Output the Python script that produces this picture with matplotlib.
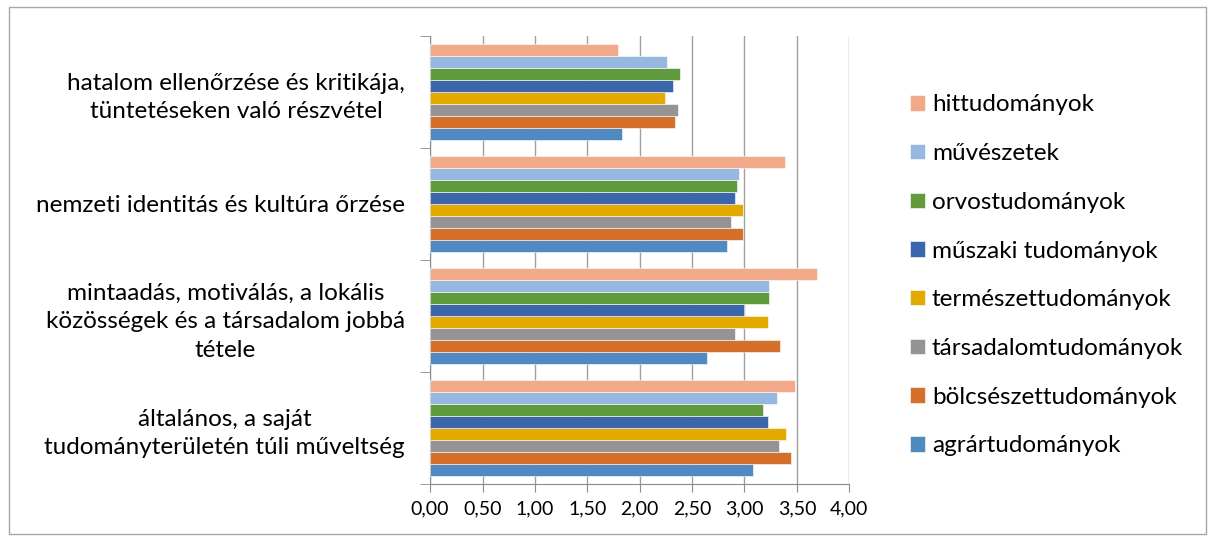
import numpy as np
import matplotlib.pyplot as plt
from matplotlib.patches import Rectangle
from matplotlib.ticker import FuncFormatter

# kategóriák alulról felfelé (Excel sorrend)
categories = [
    "általános, a saját\ntudományterületén túli műveltség",
    "mintaadás, motiválás, a lokális\nközösségek és a társadalom jobbá\ntétele",
    "nemzeti identitás és kultúra őrzése",
    "hatalom ellenőrzése és kritikája,\ntüntetéseken való részvétel",
]

series_names = [
    "agrártudományok",
    "bölcsészettudományok",
    "társadalomtudományok",
    "természettudományok",
    "műszaki tudományok",
    "orvostudományok",
    "művészetek",
    "hittudományok",
]

agrar = [3.08, 2.64, 2.83, 1.83]
bolcsesz = [3.44, 3.34, 2.99, 2.34]
tarsadalom = [3.33, 2.91, 2.87, 2.37]
termeszet = [3.40, 3.22, 2.99, 2.24]
muszaki = [3.22, 3.00, 2.91, 2.32]
orvos = [3.18, 3.23, 2.93, 2.38]
muveszet = [3.31, 3.23, 2.95, 2.26]
hittud = [3.48, 3.69, 3.39, 1.79]

values = [agrar, bolcsesz, tarsadalom, termeszet, muszaki, orvos, muveszet, hittud]

colors = ["#4F8BC0", "#D4702B", "#949494", "#E2AA00",
          "#3B65AD", "#629A3E", "#96B8DF", "#F2A98A"]

plt.rcParams["font.family"] = ["Lato", "DejaVu Sans"]

fig = plt.figure(figsize=(12.15, 5.4), dpi=100)
ax = fig.add_axes([0.354, 0.104, 0.345, 0.83])

# külső keret
fig.patches.append(Rectangle((9 / 1215, 6 / 540), 1197 / 1215, 527 / 540,
                             transform=fig.transFigure, fill=False,
                             edgecolor="#A6A6A6", linewidth=1.0))

n = len(series_names)
bar_h = 0.857 / n
y = np.arange(len(categories))
for i, (name, vals, col) in enumerate(zip(series_names, values, colors)):
    offset = (i - (n - 1) / 2) * bar_h
    ax.barh(y + offset, vals, height=bar_h, color=col, label=name,
            edgecolor="white", linewidth=0.4, zorder=3)

ax.set_xlim(0, 4)
ax.set_ylim(-0.5, len(categories) - 0.5)
ax.set_xticks(np.arange(0, 4.01, 0.5))
ax.xaxis.set_major_formatter(FuncFormatter(lambda v, p: f"{v:.2f}".replace(".", ",")))
ax.grid(axis="x", color="#A0A0A0", linewidth=1.0, zorder=0)

ax.set_yticks(y)
ax.set_yticklabels(categories, multialignment="center", linespacing=1.45)
ax.set_yticks(np.arange(-0.5, len(categories), 1), minor=True)
ax.tick_params(axis="y", which="major", length=0, pad=18, labelsize=17.5)
ax.tick_params(axis="y", which="minor", length=7, color="#8C8C8C")
ax.tick_params(axis="x", length=6, color="#8C8C8C", labelsize=14, pad=6)

for s in ["top", "right"]:
    ax.spines[s].set_visible(False)
for s in ["left", "bottom"]:
    ax.spines[s].set_color("#8C8C8C")

handles, labels = ax.get_legend_handles_labels()
fig.legend(handles[::-1], labels[::-1], loc="center left",
           bbox_to_anchor=(0.731, 0.49), frameon=False, fontsize=17.5,
           handlelength=0.6, handleheight=0.6, handletextpad=0.3,
           labelspacing=1.14)

fig.savefig("out.png", dpi=100)
